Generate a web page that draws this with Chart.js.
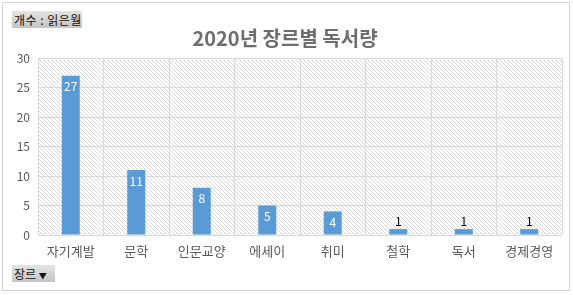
<!DOCTYPE html>
<html><head><meta charset="utf-8">
<script src="https://cdn.jsdelivr.net/npm/chart.js@4"></script>
<style>
html,body{margin:0;padding:0;background:#fff;}
#wrap{position:relative;width:573px;height:295px;}
#frame{position:absolute;left:2px;top:2px;width:566px;height:287px;border:1px solid #d4d4d4;pointer-events:none;}
.btn{position:absolute;height:17px;line-height:17px;font:12px "Noto Sans CJK KR",sans-serif;color:#111;background:linear-gradient(#e4e4e4,#c4c4c4);padding:0 2px;box-sizing:border-box;white-space:nowrap;}
</style></head>
<body><div id="wrap"><canvas id="c" width="573" height="295"></canvas><div id="frame"></div>
<div class="btn" style="left:12px;top:11px;width:70px;letter-spacing:0.5px;">개수 : 읽은월</div>
<div class="btn" style="left:12px;top:265px;width:43px;">장르 <span style="font-size:8px">▼</span></div>
</div>
<script>
const categories = ['자기계발','문학','인문교양','에세이','취미','철학','독서','경제경영'];
const counts = [27, 11, 8, 5, 4, 1, 1, 1];
const yTicks = [0,5,10,15,20,25,30];
const titleText = '2020년 장르별 독서량';

const FONT = '"Noto Sans CJK KR", sans-serif';

function makeHatch(){
  const p = document.createElement('canvas');
  p.width = 4; p.height = 4;
  const g = p.getContext('2d');
  g.fillStyle = '#ffffff'; g.fillRect(0,0,4,4);
  g.strokeStyle = '#d8d8d8'; g.lineWidth = 1;
  g.beginPath();
  g.moveTo(-1,-1); g.lineTo(5,5);
  g.moveTo(-1,3); g.lineTo(1,5);
  g.moveTo(3,-1); g.lineTo(5,1);
  g.stroke();
  return p;
}

const hatchPlugin = {
  id:'hatch',
  beforeDraw(chart){
    const {ctx, chartArea:a} = chart;
    ctx.save();
    ctx.fillStyle = ctx.createPattern(makeHatch(),'repeat');
    ctx.fillRect(a.left, a.top, a.right-a.left, a.bottom-a.top);
    ctx.restore();
  }
};

const labelPlugin = {
  id:'vals',
  afterDatasetsDraw(chart){
    const ctx = chart.ctx;
    const meta = chart.getDatasetMeta(0);
    ctx.save();
    ctx.font = '12px ' + FONT;
    ctx.textAlign = 'center';
    meta.data.forEach((bar,i)=>{
      const v = counts[i];
      const h = bar.base - bar.y;
      if (h > 20) {
        ctx.fillStyle = '#ffffff';
        ctx.textBaseline = 'middle';
        ctx.fillText(String(v), bar.x, bar.y + 11);
      } else {
        ctx.fillStyle = '#000000';
        ctx.textBaseline = 'bottom';
        ctx.fillText(String(v), bar.x, bar.y - 2);
      }
    });
    ctx.restore();
  }
};

new Chart(document.getElementById('c'), {
  type:'bar',
  data:{labels:categories, datasets:[{data:counts, backgroundColor:'#5b9bd5', barPercentage:0.275, categoryPercentage:1.0}]},
  options:{
    responsive:false, animation:false, devicePixelRatio:1,
    layout:{padding:{left:8,right:11,top:0,bottom:0}},
    plugins:{
      legend:{display:false}, tooltip:{enabled:false},
      title:{display:true, text:titleText, color:'#6e6e6e', font:{family:FONT, size:20, weight:'bold'}, padding:{top:26,bottom:8}}
    },
    scales:{
      x:{
        grid:{color:'#d9d9d9', drawTicks:false, offset:true},
        border:{display:false},
        ticks:{color:'#595959', font:{family:FONT, size:13}, padding:8, maxRotation:0, autoSkip:false},
        afterFit(s){ s.height = 60; }
      },
      y:{
        min:0, max:30,
        afterBuildTicks(s){ s.ticks = yTicks.map(v=>({value:v})); },
        grid:{color:'#d9d9d9', drawTicks:false},
        border:{display:false},
        ticks:{color:'#595959', font:{family:FONT, size:12}, padding:8},
        afterFit(s){ s.width = 30; }
      }
    }
  },
  plugins:[hatchPlugin, labelPlugin]
});
</script></body></html>
